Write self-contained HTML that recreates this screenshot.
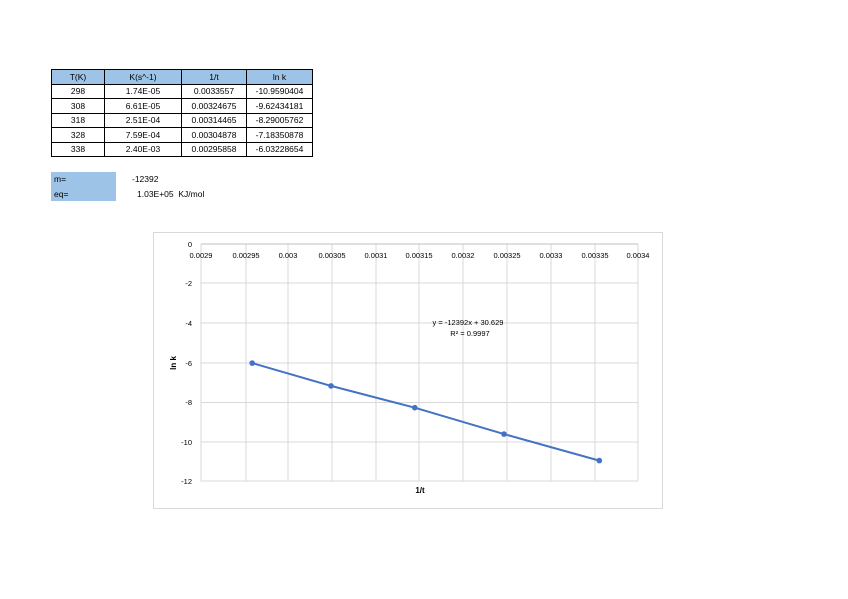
<!DOCTYPE html>
<html><head><meta charset="utf-8"><style>
body{margin:0;background:#fff;width:848px;height:599px;overflow:hidden;font-family:"Liberation Sans",sans-serif;}
table{position:absolute;left:51px;top:69px;border-collapse:collapse;font-size:8.5px;table-layout:fixed;width:261px;}
td{border:1px solid #000;height:13.5px;padding:0;text-align:center;white-space:nowrap;overflow:hidden;}
tr:first-child td{background:#9dc3e6;}
</style></head><body>
<table>
<colgroup><col style="width:53px"><col style="width:77px"><col style="width:65px"><col style="width:66px"></colgroup>
<tr><td>T(K)</td><td>K(s^-1)</td><td>1/t</td><td>ln k</td></tr>
<tr><td>298</td><td>1.74E-05</td><td>0.0033557</td><td>-10.9590404</td></tr>
<tr><td>308</td><td>6.61E-05</td><td>0.00324675</td><td>-9.62434181</td></tr>
<tr><td>318</td><td>2.51E-04</td><td>0.00314465</td><td>-8.29005762</td></tr>
<tr><td>328</td><td>7.59E-04</td><td>0.00304878</td><td>-7.18350878</td></tr>
<tr><td>338</td><td>2.40E-03</td><td>0.00295858</td><td>-6.03228654</td></tr>
</table>
<div style="position:absolute;left:51px;top:172px;width:65px;height:29px;background:#9dc3e6"></div>
<div style="position:absolute;left:54px;top:174px;font-size:8.5px">m=</div>
<div style="position:absolute;left:54px;top:189px;font-size:8.5px">eq=</div>
<div style="position:absolute;left:132px;top:174px;font-size:8.5px">-12392</div>
<div style="position:absolute;left:137px;top:189px;font-size:8.5px">1.03E+05&nbsp; KJ/mol</div>
<svg width="848" height="599" style="position:absolute;left:0;top:0" font-family="Liberation Sans, sans-serif">
<rect x="153.5" y="232.5" width="509" height="276" fill="none" stroke="#d9d9d9"/>
<g stroke="#d9d9d9" stroke-width="1">
<line x1="201" y1="283" x2="638" y2="283"/><line x1="201" y1="323" x2="638" y2="323"/>
<line x1="201" y1="363" x2="638" y2="363"/><line x1="201" y1="402.5" x2="638" y2="402.5"/>
<line x1="201" y1="442" x2="638" y2="442"/><line x1="201" y1="481" x2="638" y2="481"/>
<line x1="246" y1="244" x2="246" y2="481"/><line x1="288" y1="244" x2="288" y2="481"/>
<line x1="332" y1="244" x2="332" y2="481"/><line x1="376" y1="244" x2="376" y2="481"/>
<line x1="419" y1="244" x2="419" y2="481"/><line x1="463" y1="244" x2="463" y2="481"/>
<line x1="507" y1="244" x2="507" y2="481"/><line x1="551" y1="244" x2="551" y2="481"/>
<line x1="595" y1="244" x2="595" y2="481"/><line x1="638" y1="244" x2="638" y2="481"/>
<line x1="201" y1="244" x2="201" y2="481"/>
</g>
<line x1="201" y1="244" x2="638" y2="244" stroke="#bfbfbf"/>
<g font-size="7.5" text-anchor="middle" fill="#000">
<text x="201" y="258">0.0029</text><text x="246" y="258">0.00295</text><text x="288" y="258">0.003</text>
<text x="332" y="258">0.00305</text><text x="376" y="258">0.0031</text><text x="419" y="258">0.00315</text>
<text x="463" y="258">0.0032</text><text x="507" y="258">0.00325</text><text x="551" y="258">0.0033</text>
<text x="595" y="258">0.00335</text><text x="638" y="258">0.0034</text>
</g>
<g font-size="7.5" text-anchor="end" fill="#000">
<text x="192" y="247">0</text><text x="192" y="286">-2</text><text x="192" y="326">-4</text>
<text x="192" y="366">-6</text><text x="192" y="405">-8</text><text x="192" y="445">-10</text><text x="192" y="484">-12</text>
</g>
<text x="176" y="363" font-size="8" font-weight="bold" text-anchor="middle" transform="rotate(-90 176 363)">ln k</text>
<text x="420" y="493" font-size="8" font-weight="bold" text-anchor="middle">1/t</text>
<text x="468" y="325" font-size="7.5" text-anchor="middle">y = -12392x + 30.629</text>
<text x="470" y="336" font-size="7.5" text-anchor="middle">R² = 0.9997</text>
<polyline points="252.2,363.1 331,385.9 414.8,407.7 504,434.1 599.3,460.6" fill="none" stroke="#4472c4" stroke-width="2"/>
<g fill="#4472c4"><circle cx="252.2" cy="363.1" r="2.8"/><circle cx="331" cy="385.9" r="2.8"/><circle cx="414.8" cy="407.7" r="2.8"/><circle cx="504" cy="434.1" r="2.8"/><circle cx="599.3" cy="460.6" r="2.8"/></g>
</svg>
</body></html>
